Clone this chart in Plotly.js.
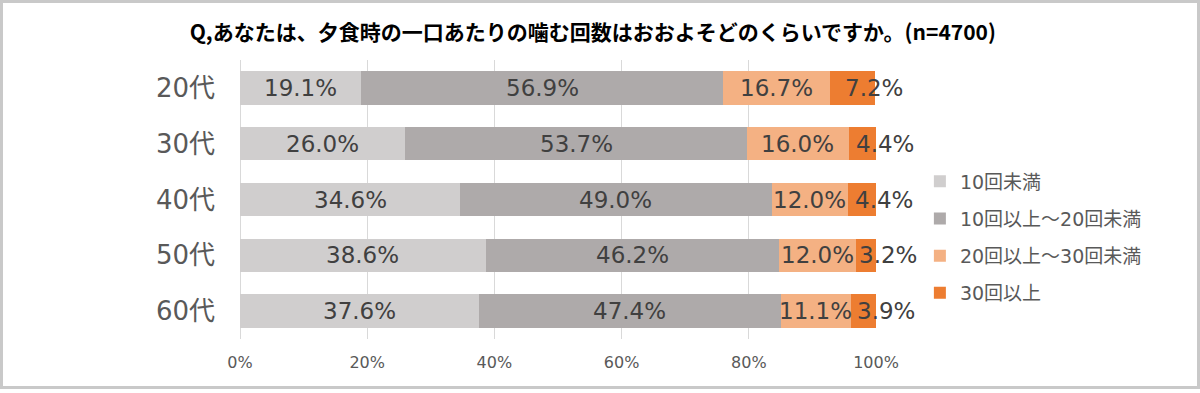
<!DOCTYPE html>
<html>
<head>
<meta charset="utf-8">
<script src="https://cdn.plot.ly/plotly-3.0.1.min.js"></script>
<style>
  body { margin: 0; background: #fff; }
  #wrap { position: relative; width: 1200px; height: 393px; }
  #chart { position: absolute; left: 0; top: 0; width: 1200px; height: 393px; }
  #frame { position: absolute; left: 0; top: 0; width: 1200px; height: 389px; box-sizing: border-box; border: 3px solid #c9c9c9; pointer-events: none; }
</style>
</head>
<body>
<div id="wrap"><div id="chart"></div><div id="frame"></div></div>
<script>
const categories = ["20代", "30代", "40代", "50代", "60代"];
const seriesNames = ["10回未満", "10回以上～20回未満", "20回以上～30回未満", "30回以上"];
const under10 = [19.1, 26.0, 34.6, 38.6, 37.6];
const from10to20 = [56.9, 53.7, 49.0, 46.2, 47.4];
const from20to30 = [16.7, 16.0, 12.0, 12.0, 11.1];
const over30 = [7.2, 4.4, 4.4, 3.2, 3.9];
const xTicks = [0, 20, 40, 60, 80, 100];

const seriesValues = [under10, from10to20, from20to30, over30];
const colors = ["#d0cece", "#aeaaaa", "#f4b183", "#ed7d31"];
const labelShift = [0, 0, 0, 22];

const FONT = "DejaVu Sans, 'Noto Sans CJK JP', sans-serif";

const traces = seriesValues.map((vals, i) => ({
  type: "bar",
  orientation: "h",
  name: seriesNames[i],
  legendgroup: "g" + i,
  y: categories,
  x: vals,
  width: 0.6,
  marker: { color: colors[i], line: { width: 0 } },
  hoverinfo: "skip"
}));

const annotations = [];
categories.forEach((cat, c) => {
  let start = 0;
  seriesValues.forEach((vals, i) => {
    const v = vals[c];
    annotations.push({
      x: start + v / 2,
      y: cat,
      xref: "x", yref: "y",
      text: v.toFixed(1) + "%",
      showarrow: false,
      xshift: labelShift[i],
      font: { family: FONT, size: 23, color: "#404040" }
    });
    start += v;
  });
});

const layout = {
  width: 1200,
  height: 393,
  margin: { l: 240, r: 324, t: 60, b: 54 },
  paper_bgcolor: "rgba(0,0,0,0)",
  plot_bgcolor: "#fff",
  barmode: "stack",
  bargap: 0.4,
  title: {
    text: "Q,あなたは、夕食時の一口あたりの噛む回数はおおよそどのくらいですか。(n=4700)",
    font: { family: "'Noto Sans CJK JP', sans-serif", size: 21, color: "#000", weight: 700 },
    x: 0.494, xref: "container", xanchor: "center",
    y: 0.916, yref: "container", yanchor: "middle"
  },
  xaxis: {
    range: [0, 100],
    tickvals: xTicks,
    ticktext: xTicks.map(t => t + "%"),
    showgrid: true,
    gridcolor: "#d9d9d9",
    gridwidth: 1,
    zeroline: true,
    zerolinecolor: "#d9d9d9",
    zerolinewidth: 1,
    showline: false,
    ticks: "",
    ticklabelstandoff: 12,
    tickfont: { family: FONT, size: 16, color: "#595959" },
    fixedrange: true
  },
  yaxis: {
    type: "category",
    autorange: "reversed",
    showgrid: false,
    zeroline: false,
    showline: false,
    ticks: "",
    ticklabelstandoff: 24,
    tickfont: { family: FONT, size: 26, color: "#595959" },
    fixedrange: true
  },
  legend: {
    x: 1.069, xanchor: "left",
    y: 0.633, yanchor: "top",
    traceorder: "grouped",
    tracegroupgap: 9.5,
    font: { family: FONT, size: 19, color: "#595959" },
    bgcolor: "rgba(0,0,0,0)"
  },
  annotations: annotations,
  showlegend: true
};

Plotly.newPlot("chart", traces, layout, { displayModeBar: false, staticPlot: true });
</script>
</body>
</html>
